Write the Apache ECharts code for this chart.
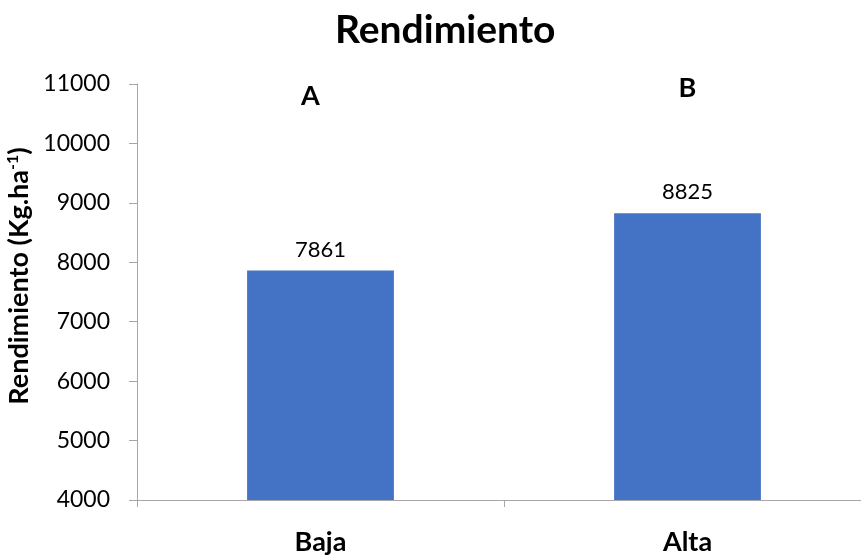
<!DOCTYPE html>
<html>
<head>
<meta charset="utf-8">
<script src="https://cdn.jsdelivr.net/npm/echarts@6/dist/echarts.min.js"></script>
<style>
  html, body { margin: 0; padding: 0; background: #fff; }
  #chart { width: 861px; height: 555px; }
</style>
</head>
<body>
<div id="chart"></div>
<script>
// Yield by planting density
const categories = ['Baja', 'Alta'];
const yieldValues = [7861, 8825];
// Significance letters and the height at which each one sits
const letters = ['A', 'B'];
const letterHeights = [10800, 10930];
const yTicks = { min: 4000, max: 11000, step: 1000 };

const FONT = 'Lato, "Noto Sans", sans-serif';

// The "A" sits a little left of its bar centre
const letterShift = [[-10, 0], [0, 0]];
const letterData = letterHeights.map((v, i) => ({
  value: v,
  label: { offset: letterShift[i] }
}));

const chart = echarts.init(document.getElementById('chart'));
chart.setOption({
  animation: false,
  backgroundColor: '#ffffff',
  title: {
    text: 'Rendimiento',
    left: 330,
    top: 6,
    textStyle: { fontFamily: FONT, fontWeight: 'bold', fontSize: 39, color: '#000' }
  },
  grid: {
    left: 137, right: -10, top: 84, bottom: 55,
    containLabel: false, outerBoundsMode: 'none'
  },
  xAxis: {
    type: 'category',
    data: categories,
    boundaryGap: true,
    axisLine: { lineStyle: { color: '#a6a6a6', width: 1 } },
    axisTick: { show: true, alignWithLabel: false, length: 7, lineStyle: { color: '#a6a6a6' } },
    axisLabel: { margin: 29, fontFamily: FONT, fontWeight: 'bold', fontSize: 27, color: '#000' },
    splitLine: { show: false }
  },
  yAxis: {
    type: 'value',
    min: yTicks.min, max: yTicks.max, interval: yTicks.step,
    axisLine: { show: true, lineStyle: { color: '#a6a6a6', width: 1 } },
    axisTick: { show: true, length: 8, lineStyle: { color: '#a6a6a6' } },
    axisLabel: {
      margin: 27, fontFamily: FONT, fontSize: 23, color: '#000',
      formatter: v => String(v)
    },
    splitLine: { show: false },
    name: '{a|Rendimiento (Kg.ha}{s|-1}{a|)}',
    nameLocation: 'middle',
    nameGap: 90,
    nameRotate: 90,
    nameTextStyle: {
      padding: [0, 0, 0, 32],
      rich: {
        a: { fontFamily: FONT, fontWeight: 'bold', fontSize: 27, color: '#000' },
        s: { fontFamily: FONT, fontWeight: 'bold', fontSize: 16, color: '#000', verticalAlign: 'top', padding: [0, 0, 12, 0] }
      }
    }
  },
  series: [
    {
      type: 'bar',
      data: yieldValues,
      barWidth: '40%',
      itemStyle: { color: '#4472c4' },
      label: {
        show: true, position: 'top', distance: 10,
        fontFamily: FONT, fontSize: 22, color: '#000'
      }
    },
    {
      type: 'scatter',
      data: letterData,
      symbolSize: 0,
      silent: true,
      itemStyle: { opacity: 1 },
      label: {
        show: true, position: 'inside',
        formatter: p => letters[p.dataIndex],
        fontFamily: FONT, fontWeight: 'bold', fontSize: 27, color: '#000',
        opacity: 1, textBorderWidth: 0
      }
    }
  ]
});
</script>
</body>
</html>
